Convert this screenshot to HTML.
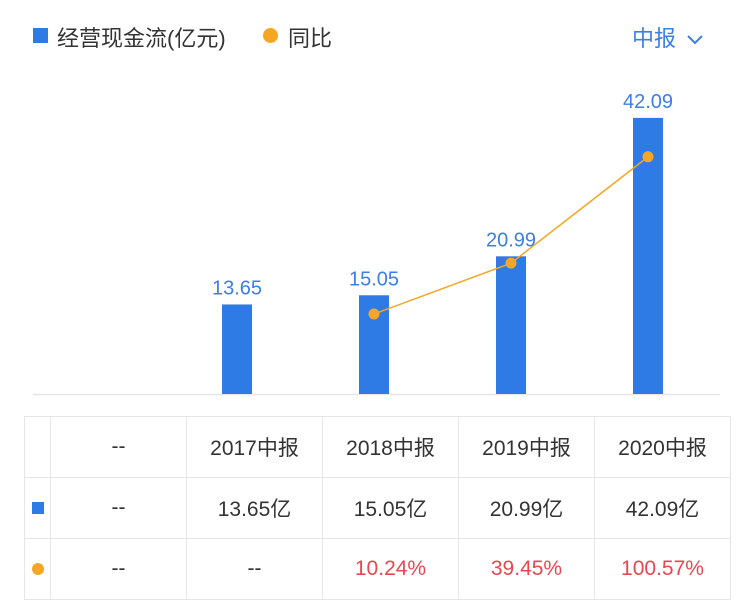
<!DOCTYPE html>
<html><head><meta charset="utf-8"><style>
body{margin:0;width:750px;height:610px;background:#fff;font-family:"Liberation Sans","Noto Sans CJK SC",sans-serif;overflow:hidden;position:relative}
.t{position:absolute}
table{position:absolute;left:24px;top:416px;border-collapse:collapse}
td{border:1px solid #e6e6e6;text-align:center;font-size:21px;color:#333;height:60px;padding:0}
.r{color:#e8474f}
</style></head><body>
<div class="t" style="left:33px;top:28px;width:15px;height:15px;background:#2f7be6"></div>
<div class="t" style="left:57px;top:21px;font-size:22px;color:#333">经营现金流(亿元)</div>
<div class="t" style="left:263px;top:28px;width:15px;height:15px;border-radius:50%;background:#f5a623"></div>
<div class="t" style="left:288px;top:21px;font-size:22px;color:#333">同比</div>
<div class="t" style="left:632px;top:21px;font-size:22px;color:#3d7fe0">中报 <svg width="18" height="12" style="margin-left:4px"><path d="M2 2 L9 9 L16 2" stroke="#3d7fe0" stroke-width="2" fill="none"/></svg></div>
<svg id="chart" class="t" style="left:0;top:0" width="750" height="410"></svg>
<table>
<tr><td style="width:25px"></td><td style="width:135px">--</td><td style="width:135px">2017中报</td><td style="width:135px">2018中报</td><td style="width:135px">2019中报</td><td style="width:135px">2020中报</td></tr>
<tr><td><div style="width:12px;height:12px;background:#2f7be6;margin:auto"></div></td><td>--</td><td>13.65亿</td><td>15.05亿</td><td>20.99亿</td><td>42.09亿</td></tr>
<tr><td><div style="width:12px;height:12px;border-radius:50%;background:#f5a623;margin:auto"></div></td><td>--</td><td>--</td><td class="r">10.24%</td><td class="r">39.45%</td><td class="r">100.57%</td></tr>
</table>
<script>
const categories=["--","2017中报","2018中报","2019中报","2020中报"];
const cashFlow=[null,13.65,15.05,20.99,42.09];
const yoy=[null,null,10.24,39.45,100.57];
const svg=document.getElementById('chart');
const NS='http://www.w3.org/2000/svg';
const xPos=i=>100+137*i;
const yBar=v=>394-v*6.56;
const yLine=v=>331.8-v*1.74;
function mk(t,a){const e=document.createElementNS(NS,t);for(const k in a)e.setAttribute(k,a[k]);svg.appendChild(e);return e;}
const ax=mk('line',{x1:33,x2:720,y1:394.5,y2:394.5,stroke:'#e6e6e6','stroke-width':1.5});


cashFlow.forEach((v,i)=>{if(v==null)return;
const r=mk('rect',{x:xPos(i)-15,y:yBar(v),width:30,height:394-yBar(v),fill:'#2f7be6'});


const t=mk('text',{x:xPos(i),y:yBar(v)-10,'text-anchor':'middle','font-size':20,fill:'#3d7fe0'});
t.textContent=v.toFixed(2);


});
let pts=[];yoy.forEach((v,i)=>{if(v!=null)pts.push([xPos(i),yLine(v)]);});
const pl=mk('polyline',{points:pts.map(p=>p.join(',')).join(' '),fill:'none',stroke:'#f5a623','stroke-width':1.5});


pts.forEach(p=>{const c=mk('circle',{cx:p[0],cy:p[1],r:5.5,fill:'#f5a623'});

});
</script>
</body></html>
